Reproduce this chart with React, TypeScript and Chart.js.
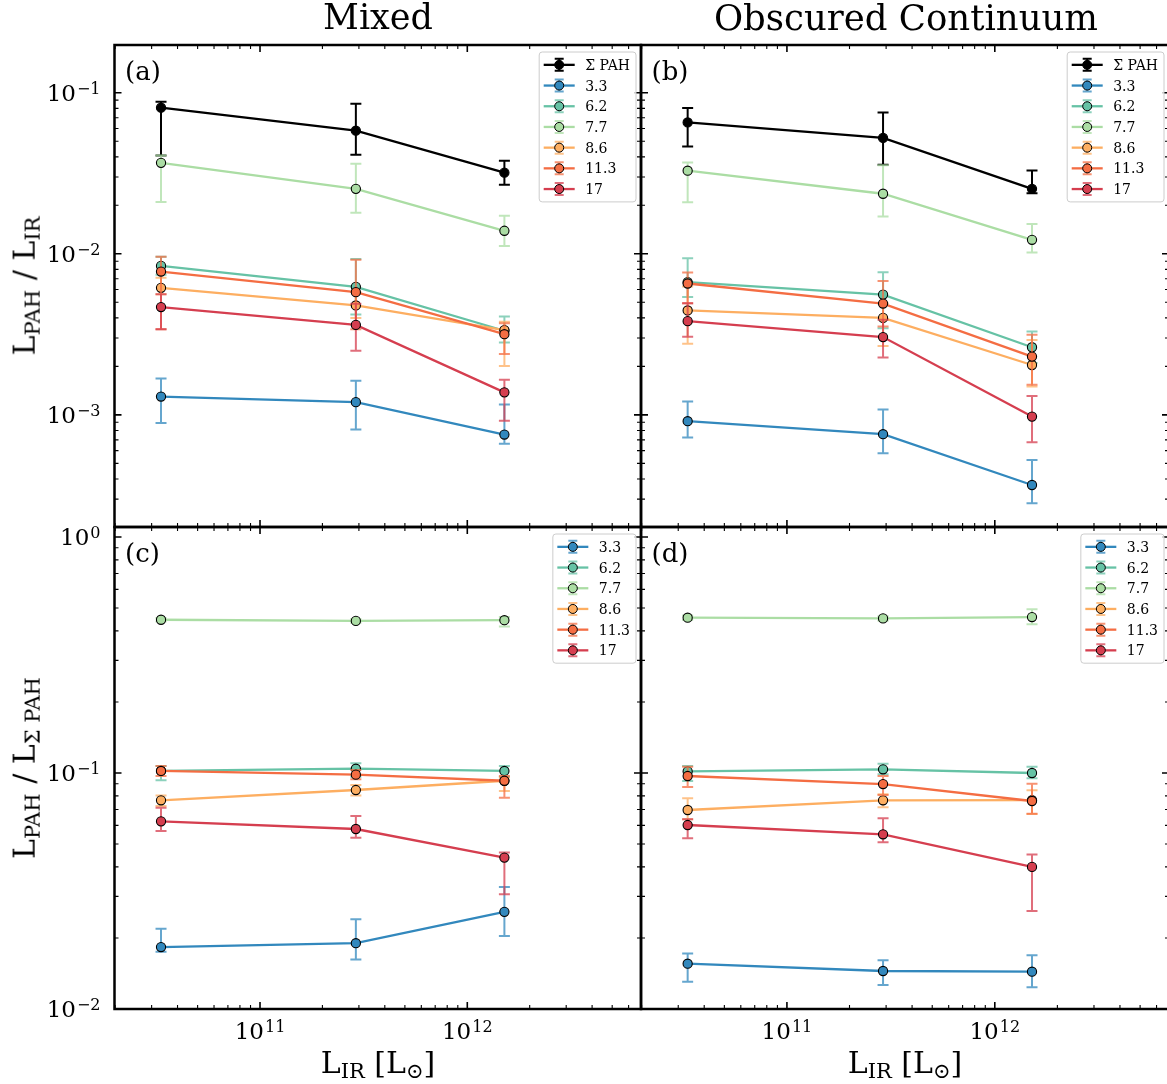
import React, { useEffect, useRef } from 'react';
import { Chart, registerables } from 'chart.js';

Chart.register(...registerables);

const SERIF = "'DejaVu Serif', 'Liberation Serif', serif";

// ---------------- data ----------------
const xLIR = [3.33e10, 2.9e11, 1.51e12];

const topSeriesLabels = ['Σ PAH', '3.3', '6.2', '7.7', '8.6', '11.3', '17'];
const bottomSeriesLabels = ['3.3', '6.2', '7.7', '8.6', '11.3', '17'];
const topColors = ['#000000', '#3288bd', '#66c2a5', '#abdda4', '#fdae61', '#f46d43', '#d53e4f'];
const bottomColors = ['#3288bd', '#66c2a5', '#abdda4', '#fdae61', '#f46d43', '#d53e4f'];

// (a) Mixed : L_PAH / L_IR
const mixedIR = [
  [0.0807, 0.0581, 0.0319],
  [0.0013, 0.0012, 0.000755],
  [0.00841, 0.00624, 0.00333],
  [0.0367, 0.0253, 0.0139],
  [0.00615, 0.00478, 0.00336],
  [0.00776, 0.00578, 0.00317],
  [0.00467, 0.00362, 0.00138],
];
const mixedIRLo = [
  [0.0407, 0.0412, 0.0268],
  [0.000892, 0.000811, 0.000661],
  [0.0074, 0.0042, 0.00281],
  [0.021, 0.018, 0.0112],
  [0.0056, 0.004, 0.00201],
  [0.0034, 0.0034, 0.00239],
  [0.0034, 0.0025, 0.000919],
];
const mixedIRHi = [
  [0.0879, 0.0855, 0.0378],
  [0.00168, 0.00163, 0.00116],
  [0.0096, 0.0093, 0.00408],
  [0.0407, 0.0362, 0.0172],
  [0.0071, 0.0058, 0.00379],
  [0.0096, 0.0092, 0.0037],
  [0.0056, 0.0049, 0.00165],
];

// (b) Obscured Continuum : L_PAH / L_IR
const obscIR = [
  [0.0654, 0.0524, 0.0253],
  [0.000914, 0.000759, 0.000367],
  [0.00667, 0.00558, 0.00263],
  [0.0328, 0.0236, 0.01222],
  [0.00445, 0.004, 0.00204],
  [0.00654, 0.00491, 0.0023],
  [0.00382, 0.00304, 0.000976],
];
const obscIRLo = [
  [0.0464, 0.0357, 0.0238],
  [0.000723, 0.000578, 0.000283],
  [0.0054, 0.00345, 0.0021],
  [0.0209, 0.01706, 0.01019],
  [0.00276, 0.00268, 0.0015],
  [0.00494, 0.00354, 0.00154],
  [0.00306, 0.00227, 0.000676],
];
const obscIRHi = [
  [0.0803, 0.0755, 0.0329],
  [0.00121, 0.00108, 0.000525],
  [0.0094, 0.00769, 0.00329],
  [0.0369, 0.0354, 0.01529],
  [0.00626, 0.00494, 0.00292],
  [0.00766, 0.00679, 0.00314],
  [0.00494, 0.00389, 0.00131],
];

// (c) Mixed : L_PAH / L_ΣPAH
const mixedSum = [
  [0.0183, 0.019, 0.0258],
  [0.102, 0.1043, 0.102],
  [0.446, 0.441, 0.444],
  [0.0766, 0.0847, 0.0927],
  [0.102, 0.0984, 0.0927],
  [0.0624, 0.0579, 0.0438],
];
const mixedSumLo = [
  [0.0175, 0.0162, 0.0204],
  [0.0931, 0.0965, 0.0965],
  [0.438, 0.433, 0.418],
  [0.0725, 0.0802, 0.0838],
  [0.097, 0.094, 0.0786],
  [0.0568, 0.0532, 0.0306],
];
const mixedSumHi = [
  [0.0219, 0.024, 0.0329],
  [0.107, 0.1099, 0.107],
  [0.454, 0.449, 0.458],
  [0.0802, 0.0889, 0.0956],
  [0.107, 0.103, 0.097],
  [0.0713, 0.0658, 0.046],
];

// (d) Obscured Continuum : L_PAH / L_ΣPAH
const obscSum = [
  [0.01556, 0.01449, 0.01439],
  [0.1016, 0.1037, 0.1],
  [0.455, 0.452, 0.458],
  [0.0697, 0.0766, 0.0767],
  [0.0971, 0.0898, 0.0761],
  [0.0602, 0.055, 0.04],
];
const obscSumLo = [
  [0.01305, 0.01263, 0.01235],
  [0.0925, 0.0988, 0.095],
  [0.445, 0.442, 0.427],
  [0.0637, 0.0716, 0.067],
  [0.0873, 0.0807, 0.0672],
  [0.0529, 0.0509, 0.026],
];
const obscSumHi = [
  [0.0172, 0.0161, 0.0169],
  [0.107, 0.1095, 0.1064],
  [0.465, 0.462, 0.494],
  [0.0781, 0.0812, 0.0845],
  [0.1063, 0.0971, 0.0901],
  [0.0637, 0.0643, 0.0452],
];

// axis ranges and major ticks
const X_MIN = Math.pow(10, 10.298);
const X_MAX = Math.pow(10, 12.838);
const xMajorTicks = [1e11, 1e12];
const Y_TOP_MIN = Math.pow(10, -3.696);
const Y_TOP_MAX = Math.pow(10, -0.7037);
const yTopMajorTicks = [1e-3, 1e-2, 1e-1];
const Y_BOT_MIN = 0.01;
const Y_BOT_MAX = Math.pow(10, 0.0424);
const yBotMajorTicks = [1e-2, 1e-1, 1];

// ---------------- helpers ----------------
type Box = { left: number; top: number; width: number; height: number };
type Area = { left: number; top: number; right: number; bottom: number };
type PanelCfg = {
  labels: string[];
  colors: string[];
  vals: number[][];
  lo: number[][];
  hi: number[][];
  yMin: number;
  yMax: number;
  yMajor: number[];
  showYLabels: boolean;
  showXLabels: boolean;
  letter: string;
  canvas: Box;
  area: Area;
};

function rgba(hex: string, a: number) {
  const h = hex.replace('#', '');
  const r = parseInt(h.slice(0, 2), 16);
  const g = parseInt(h.slice(2, 4), 16);
  const b = parseInt(h.slice(4, 6), 16);
  return `rgba(${r},${g},${b},${a})`;
}

const errColor = (hex: string) => (hex === '#000000' ? '#000000' : rgba(hex, 0.75));

function drawPow(ctx: CanvasRenderingContext2D, e: number, x: number, baseline: number, align: 'right' | 'center') {
  const base = '10';
  const sup = e < 0 ? '\u2212' + Math.abs(e) : String(e);
  ctx.textAlign = 'left';
  ctx.textBaseline = 'alphabetic';
  ctx.font = `23px ${SERIF}`;
  const wb = ctx.measureText(base).width;
  ctx.font = `16px ${SERIF}`;
  const ws = ctx.measureText(sup).width;
  const total = wb + ws + 1;
  const x0 = align === 'right' ? x - total : x - total / 2;
  ctx.fillStyle = '#000';
  ctx.font = `23px ${SERIF}`;
  ctx.fillText(base, x0, baseline);
  ctx.font = `16px ${SERIF}`;
  ctx.fillText(sup, x0 + wb + 1, baseline - 7);
}

function makeFramePlugin(cfg: PanelCfg) {
  return {
    id: 'frame' + cfg.letter,
    beforeDatasetDraw(chart: any, args: any) {
      const i = args.index;
      const xs = chart.scales.x;
      const ys = chart.scales.y;
      const ctx: CanvasRenderingContext2D = chart.ctx;
      const { left, right, top, bottom } = chart.chartArea;
      ctx.save();
      ctx.beginPath();
      ctx.rect(left, top, right - left, bottom - top);
      ctx.clip();
      ctx.strokeStyle = errColor(cfg.colors[i]);
      ctx.lineWidth = 2;
      xLIR.forEach((xv, j) => {
        const px = xs.getPixelForValue(xv);
        const y1 = ys.getPixelForValue(cfg.lo[i][j]);
        const y2 = ys.getPixelForValue(cfg.hi[i][j]);
        ctx.beginPath();
        ctx.moveTo(px, y1);
        ctx.lineTo(px, y2);
        ctx.moveTo(px - 5.5, y1);
        ctx.lineTo(px + 5.5, y1);
        ctx.moveTo(px - 5.5, y2);
        ctx.lineTo(px + 5.5, y2);
        ctx.stroke();
      });
      ctx.restore();
    },
    afterDraw(chart: any) {
      const ctx: CanvasRenderingContext2D = chart.ctx;
      const xs = chart.scales.x;
      const ys = chart.scales.y;
      const { left, right, top, bottom } = chart.chartArea;
      ctx.save();
      ctx.strokeStyle = '#000';
      // x ticks (inward, bottom & top)
      for (let e = Math.floor(Math.log10(X_MIN)); e <= Math.ceil(Math.log10(X_MAX)); e++) {
        for (let m = 1; m <= 9; m++) {
          const v = m * Math.pow(10, e);
          if (v < X_MIN || v > X_MAX) continue;
          const px = xs.getPixelForValue(v);
          const len = m === 1 ? 7 : 4;
          ctx.lineWidth = m === 1 ? 1.6 : 1.1;
          ctx.beginPath();
          ctx.moveTo(px, bottom);
          ctx.lineTo(px, bottom - len);
          ctx.moveTo(px, top);
          ctx.lineTo(px, top + len);
          ctx.stroke();
        }
      }
      // y ticks (inward, left & right)
      for (let e = Math.floor(Math.log10(cfg.yMin)); e <= Math.ceil(Math.log10(cfg.yMax)); e++) {
        for (let m = 1; m <= 9; m++) {
          const v = m * Math.pow(10, e);
          if (v < cfg.yMin || v > cfg.yMax) continue;
          const py = ys.getPixelForValue(v);
          const len = m === 1 ? 7 : 4;
          ctx.lineWidth = m === 1 ? 1.6 : 1.1;
          ctx.beginPath();
          ctx.moveTo(left, py);
          ctx.lineTo(left + len, py);
          ctx.moveTo(right, py);
          ctx.lineTo(right - len, py);
          ctx.stroke();
        }
      }
      // spines
      ctx.lineWidth = 2.5;
      ctx.strokeRect(left, top, right - left, bottom - top);

      // tick labels
      if (cfg.showYLabels) {
        cfg.yMajor.forEach((v) => {
          const py = ys.getPixelForValue(v);
          drawPow(ctx, Math.round(Math.log10(v)), left - 14, py + 8, 'right');
        });
      }
      if (cfg.showXLabels) {
        xMajorTicks.forEach((v) => {
          const px = xs.getPixelForValue(v);
          drawPow(ctx, Math.round(Math.log10(v)), px, bottom + 30.3, 'center');
        });
      }

      // panel letter
      ctx.fillStyle = '#000';
      ctx.font = `26px ${SERIF}`;
      ctx.textAlign = 'left';
      ctx.textBaseline = 'alphabetic';
      ctx.fillText(cfg.letter, left + 10.5, top + 34.5);

      // legend
      ctx.font = `14px ${SERIF}`;
      const textW = Math.max(...cfg.labels.map((l) => ctx.measureText(l).width));
      const rowH = 20.7;
      const w = 46 + textW + 6;
      const h = cfg.labels.length * rowH + 5;
      const bx1 = right - 5;
      const bx0 = bx1 - w;
      const by0 = top + 7;
      const by1 = by0 + h;
      const r = 3;
      ctx.beginPath();
      ctx.moveTo(bx0 + r, by0);
      ctx.arcTo(bx1, by0, bx1, by1, r);
      ctx.arcTo(bx1, by1, bx0, by1, r);
      ctx.arcTo(bx0, by1, bx0, by0, r);
      ctx.arcTo(bx0, by0, bx1, by0, r);
      ctx.closePath();
      ctx.fillStyle = 'rgba(255,255,255,0.8)';
      ctx.fill();
      ctx.strokeStyle = '#cccccc';
      ctx.lineWidth = 1;
      ctx.stroke();
      cfg.labels.forEach((lab, i) => {
        const cy = by0 + 2.5 + rowH * (i + 0.5);
        const col = cfg.colors[i];
        const mx = bx0 + 20;
        ctx.strokeStyle = col;
        ctx.lineWidth = 2.3;
        ctx.beginPath();
        ctx.moveTo(bx0 + 4.5, cy);
        ctx.lineTo(bx0 + 35.5, cy);
        ctx.stroke();
        ctx.strokeStyle = errColor(col);
        ctx.lineWidth = 2;
        ctx.beginPath();
        ctx.moveTo(mx, cy - 6);
        ctx.lineTo(mx, cy + 6);
        ctx.moveTo(mx - 4.5, cy - 6);
        ctx.lineTo(mx + 4.5, cy - 6);
        ctx.moveTo(mx - 4.5, cy + 6);
        ctx.lineTo(mx + 4.5, cy + 6);
        ctx.stroke();
        ctx.beginPath();
        ctx.arc(mx, cy, 4.5, 0, Math.PI * 2);
        ctx.fillStyle = col;
        ctx.fill();
        ctx.strokeStyle = '#000';
        ctx.lineWidth = 1;
        ctx.stroke();
        ctx.fillStyle = '#000';
        ctx.font = `14px ${SERIF}`;
        ctx.fillText(lab, bx0 + 46, cy + 5);
      });
      ctx.restore();
    },
  };
}

function Panel({ cfg }: { cfg: PanelCfg }) {
  const ref = useRef<HTMLCanvasElement>(null);
  useEffect(() => {
    const canvas = ref.current;
    if (!canvas) return;
    const cv = cfg.canvas;
    const area = cfg.area;
    const n = cfg.labels.length;
    const chart = new Chart(canvas, {
      type: 'line',
      data: {
        datasets: cfg.labels.map((lab, i) => ({
          label: lab,
          data: xLIR.map((x, j) => ({ x, y: cfg.vals[i][j] })),
          borderColor: cfg.colors[i],
          backgroundColor: cfg.colors[i],
          borderWidth: 2.3,
          pointRadius: 4.6,
          pointHoverRadius: 4.6,
          pointBackgroundColor: cfg.colors[i],
          pointBorderColor: '#000',
          pointBorderWidth: 1.1,
          tension: 0,
          fill: false,
          order: n - i,
        })),
      },
      options: {
        responsive: false,
        animation: false,
        devicePixelRatio: 1,
        events: [],
        layout: {
          padding: {
            left: 0,
            top: area.top - cv.top,
            right: cv.left + cv.width - area.right,
            bottom: 0,
          },
        },
        plugins: {
          legend: { display: false },
          tooltip: { enabled: false },
          title: { display: false },
        },
        scales: {
          x: {
            type: 'logarithmic',
            min: X_MIN,
            max: X_MAX,
            ticks: { display: false },
            grid: { display: false },
            border: { display: false },
            afterFit: (s: any) => {
              s.height = cv.top + cv.height - area.bottom;
            },
          },
          y: {
            type: 'logarithmic',
            min: cfg.yMin,
            max: cfg.yMax,
            ticks: { display: false },
            grid: { display: false },
            border: { display: false },
            afterFit: (s: any) => {
              s.width = area.left - cv.left;
            },
          },
        },
      } as any,
      plugins: [makeFramePlugin(cfg) as any],
    });
    return () => chart.destroy();
  }, [cfg]);
  return (
    <canvas
      ref={ref}
      width={cfg.canvas.width}
      height={cfg.canvas.height}
      style={{
        position: 'absolute',
        left: cfg.canvas.left,
        top: cfg.canvas.top,
        width: cfg.canvas.width,
        height: cfg.canvas.height,
      }}
    />
  );
}

function TextAt({ x, y, size, rotate, children }: { x: number; y: number; size: number; rotate?: boolean; children: React.ReactNode }) {
  const b = 0.846 * size;
  return (
    <div style={{ position: 'absolute', left: x, top: y, width: 0, height: 0 }}>
      <div
        style={{
          position: 'absolute',
          left: 0,
          top: 0,
          transformOrigin: '0 0',
          transform: `${rotate ? 'rotate(-90deg) ' : ''}translate(-50%, ${-b}px)`,
          whiteSpace: 'nowrap',
          fontFamily: SERIF,
          fontSize: size,
          lineHeight: 1,
          color: '#000',
        }}
      >
        {children}
      </div>
    </div>
  );
}

const Sub = ({ children }: { children: React.ReactNode }) => (
  <span style={{ fontSize: '0.7em', position: 'relative', top: 5 }}>{children}</span>
);

const panels: PanelCfg[] = [
  {
    labels: topSeriesLabels, colors: topColors, vals: mixedIR, lo: mixedIRLo, hi: mixedIRHi,
    yMin: Y_TOP_MIN, yMax: Y_TOP_MAX, yMajor: yTopMajorTicks, showYLabels: true, showXLabels: false, letter: '(a)',
    canvas: { left: 0, top: 0, width: 660, height: 560 }, area: { left: 114.5, top: 45, right: 641, bottom: 527 },
  },
  {
    labels: topSeriesLabels, colors: topColors, vals: obscIR, lo: obscIRLo, hi: obscIRHi,
    yMin: Y_TOP_MIN, yMax: Y_TOP_MAX, yMajor: yTopMajorTicks, showYLabels: false, showXLabels: false, letter: '(b)',
    canvas: { left: 621, top: 0, width: 560, height: 560 }, area: { left: 641, top: 45, right: 1169, bottom: 527 },
  },
  {
    labels: bottomSeriesLabels, colors: bottomColors, vals: mixedSum, lo: mixedSumLo, hi: mixedSumHi,
    yMin: Y_BOT_MIN, yMax: Y_BOT_MAX, yMajor: yBotMajorTicks, showYLabels: true, showXLabels: true, letter: '(c)',
    canvas: { left: 0, top: 500, width: 660, height: 584 }, area: { left: 114.5, top: 527, right: 641, bottom: 1009 },
  },
  {
    labels: bottomSeriesLabels, colors: bottomColors, vals: obscSum, lo: obscSumLo, hi: obscSumHi,
    yMin: Y_BOT_MIN, yMax: Y_BOT_MAX, yMajor: yBotMajorTicks, showYLabels: false, showXLabels: true, letter: '(d)',
    canvas: { left: 621, top: 500, width: 560, height: 584 }, area: { left: 641, top: 527, right: 1169, bottom: 1009 },
  },
];

export default function App() {
  return (
    <div
      style={{
        position: 'absolute',
        left: 0,
        top: 0,
        width: 1167,
        height: 1084,
        overflow: 'hidden',
        background: '#fff',
      }}
    >
      {panels.map((p) => (
        <Panel key={p.letter} cfg={p} />
      ))}
      <TextAt x={378} y={30} size={35}>Mixed</TextAt>
      <TextAt x={906} y={30} size={35.5}>Obscured Continuum</TextAt>
      <TextAt x={35} y={286} size={30} rotate>
        L<Sub>PAH</Sub> / L<Sub>IR</Sub>
      </TextAt>
      <TextAt x={35} y={768} size={30} rotate>
        L<Sub>PAH</Sub> / L<Sub>Σ PAH</Sub>
      </TextAt>
      <TextAt x={378} y={1073} size={30}>
        L<Sub>IR</Sub> [L<Sub>⊙</Sub>]
      </TextAt>
      <TextAt x={905} y={1073} size={30}>
        L<Sub>IR</Sub> [L<Sub>⊙</Sub>]
      </TextAt>
    </div>
  );
}
